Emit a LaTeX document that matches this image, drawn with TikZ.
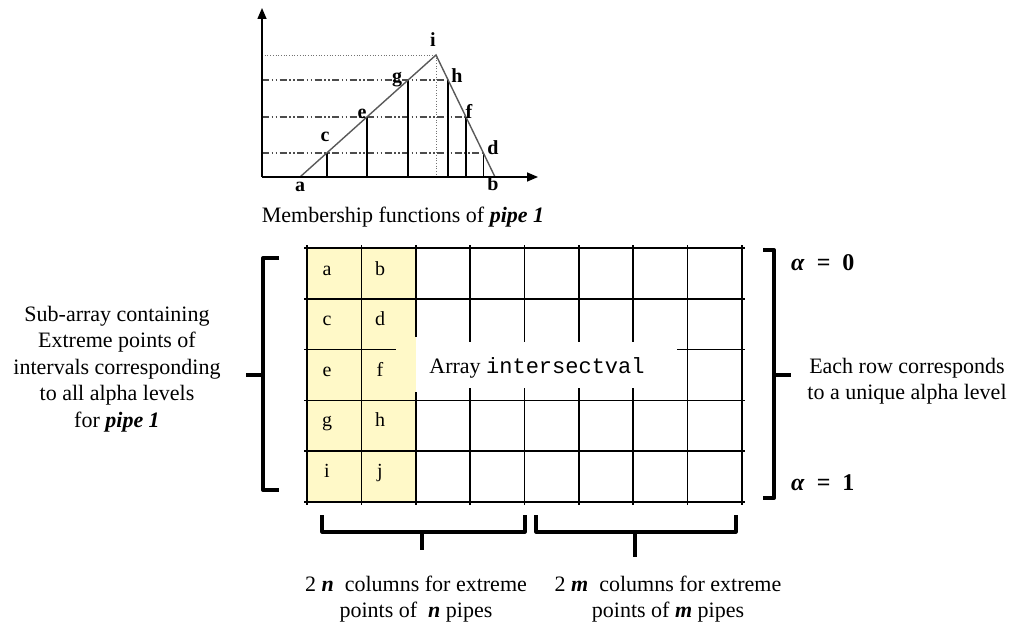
\documentclass[tikz,border=0pt]{standalone}
\usepackage{fontspec}
\setmainfont{Liberation Serif}
\setmonofont{Liberation Mono}
\usetikzlibrary{arrows.meta}
\definecolor{cellyellow}{RGB}{255,249,200}
\begin{document}
\begin{tikzpicture}[x=1pt,y=-1pt,
  axisln/.style={line width=1.5pt,-{Triangle[length=11pt,width=9pt]}},
  memb/.style={line width=1.4pt,draw=black!65},
  vline/.style={line width=1.5pt},
  dashdot/.style={line width=1.2pt,draw=black!70,dash pattern=on 7pt off 2.5pt on 1.5pt off 2.5pt on 1.5pt off 2.5pt},
  dotln/.style={line width=0.7pt,draw=black!55,dotted},
  ptlbl/.style={font=\fontsize{20}{20}\selectfont\bfseries,inner sep=0pt,anchor=base},
  gridln/.style={line width=1.7pt},
  brk/.style={line width=4pt,line join=round},
  brc/.style={line width=3.2pt,line join=round},
  txt/.style={font=\fontsize{22}{26.5}\selectfont,align=center,inner sep=0pt},
  celltxt/.style={font=\fontsize{20}{20}\selectfont,inner sep=0pt,anchor=base}
]
\useasboundingbox (0,0) rectangle (1012,623);

% ---------------- membership function graph ----------------
\coordinate (O) at (262,177);
\coordinate (ytop) at (262,8);
\coordinate (xend) at (538,177);
\coordinate (pa) at (300,177);
\coordinate (pi) at (436,55);
\coordinate (pb) at (495,177);
\coordinate (pc) at (326.8,153);
\coordinate (pe) at (366.9,117);
\coordinate (pg) at (408,80);
\coordinate (ph) at (448,80);
\coordinate (pf) at (466,117);
\coordinate (pd) at (483.4,153);

\draw[dotln] (O |- pi) -- (pi);
\draw[dotln] (pi) -- (pi |- O);
\draw[dashdot] (O |- ph) -- (ph);
\draw[dashdot] (O |- pf) -- (pf);
\draw[dashdot] (O |- pd) -- (pd);
\foreach \p in {pc,pe,pg,ph,pf,pd} \draw[vline] (\p) -- (\p |- O);
\draw[memb] (pa) -- (pi) -- (pb);
\draw[axisln] (O) -- (ytop);
\draw[axisln] (O) -- (xend);

\node[ptlbl] (la) at (300,191) {a};
\node[ptlbl] (lb) at (493,190) {b};
\node[ptlbl] (lc) at (325,142) {c};
\node[ptlbl] (le) at (362,119) {e};
\node[ptlbl] (lg) at (397,83) {g};
\node[ptlbl] (lh) at (457,83) {h};
\node[ptlbl] (lf) at (469,119) {f};
\node[ptlbl] (ld) at (493,155) {d};
\node[ptlbl] (li) at (433,47) {i};

\node[txt,anchor=base] (cap) at (403,222) {Membership functions of \textbf{\textit{pipe 1}}};

% ---------------- array grid ----------------
\fill[cellyellow] (307,248) rectangle (415.75,502);
\foreach \yy in {248,298.8,400.4,451.2,502}
  \draw[gridln] (304,\yy) -- (745,\yy);
\draw[gridln] (304,349.6) -- (396,349.6);
\draw[gridln] (677,349.6) -- (745,349.6);
\foreach \xx in {307,361.4,687.6,742}
  \draw[gridln] (\xx,245) -- (\xx,505);
\draw[gridln] (415.75,245) -- (415.75,337);
\draw[gridln] (415.75,392) -- (415.75,505);
\foreach \xx in {470.1,524.5,578.9,633.25}
{
  \draw[gridln] (\xx,245) -- (\xx,342);
  \draw[gridln] (\xx,388) -- (\xx,505);
}

\node[celltxt] (ca) at (327,275) {a};
\node[celltxt] (cb) at (380,275) {b};
\node[celltxt] (cc) at (327,325.5) {c};
\node[celltxt] (cd) at (380,325.5) {d};
\node[celltxt] (ce) at (327,376) {e};
\node[celltxt] (cf) at (380,376) {f};
\node[celltxt] (cg) at (327,426.5) {g};
\node[celltxt] (ch) at (380,426.5) {h};
\node[celltxt] (ci) at (327,477) {i};
\node[celltxt] (cj) at (380,477) {j};

\node[txt,anchor=base] (arr) at (537,373) {Array \texttt{intersectval}};

% ---------------- brackets ----------------
\draw[brk] (279,258) -- (263,258) -- (263,490) -- (279,490);
\draw[brk] (263,375) -- (246,375);
\draw[brk] (763,250) -- (774,250) -- (774,498) -- (763,498);
\draw[brk] (774,375) -- (791,375);

\draw[brc] (322,515) -- (322,532) -- (525,532) -- (525,515);
\draw[brc] (422,532) -- (422,550);
\draw[brc] (536,515) -- (536,532) -- (736,532) -- (736,515);
\draw[brc] (635,532) -- (635,557);

% ---------------- texts ----------------
\node[txt] (left) at (117,369) {Sub-array containing\\Extreme points of\\intervals corresponding\\to all alpha levels\\for \textbf{\textit{pipe 1}}};
\node[txt] (right) at (907,381) {Each row corresponds\\to a unique alpha level};
\node[txt,anchor=base west] (a0) at (791,270) {\fontsize{24}{24}\selectfont\textbf{\textit{α}}\hspace{12pt}\textbf{=}\hspace{12pt}\textbf{0}};
\node[txt,anchor=base west] (a1) at (791,490) {\fontsize{24}{24}\selectfont\textbf{\textit{α}}\hspace{12pt}\textbf{=}\hspace{12pt}\textbf{1}};
\node[txt] (bn) at (416,599) {2 \textbf{\textit{n}}\ \ columns for extreme\\points of\ \ \textbf{\textit{n}} pipes};
\node[txt] (bm) at (668,599) {2 \textbf{\textit{m}}\ \ columns for extreme\\points of \textbf{\textit{m}} pipes};
\end{tikzpicture}
\end{document}
